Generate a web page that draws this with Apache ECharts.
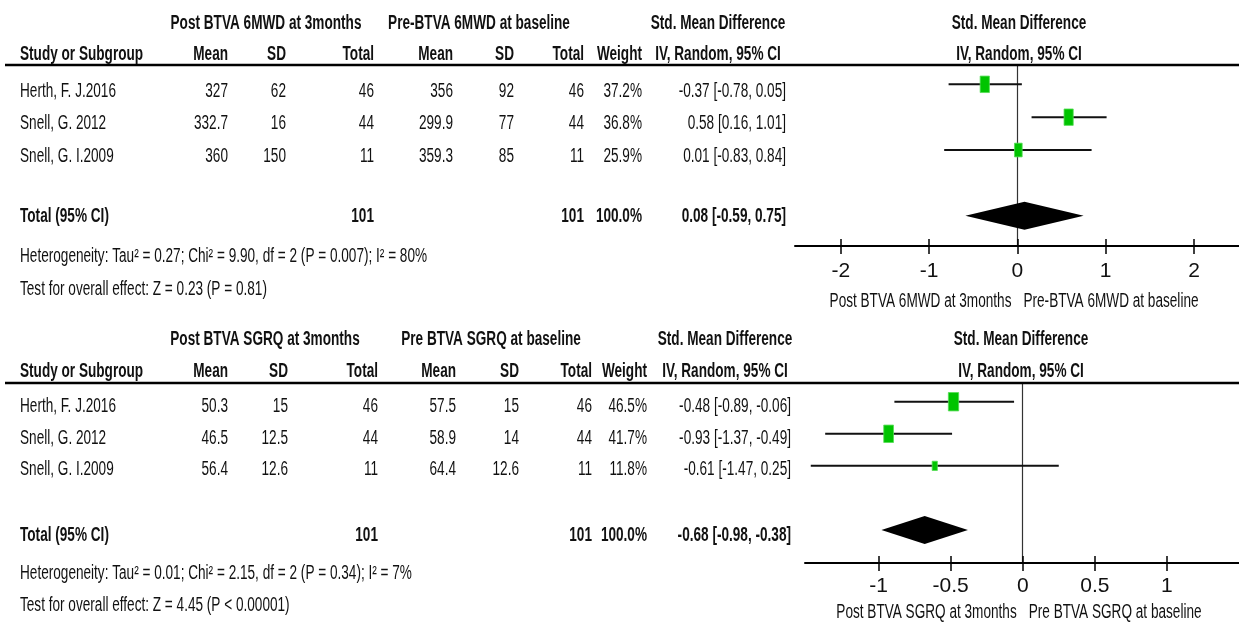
<!DOCTYPE html>
<html><head><meta charset="utf-8">
<script src="https://cdn.jsdelivr.net/npm/echarts@6/dist/echarts.min.js"></script>
<style>html,body{margin:0;padding:0;background:#fff}#c{width:1239px;height:628px}</style>
</head><body><div id="c"></div>
<script>
// ---------- DATA ----------
const studies = ['Herth, F. J.2016', 'Snell, G. 2012', 'Snell, G. I.2009'];

// Panel 1: 6MWD
const mwdGroupPost = 'Post BTVA 6MWD at 3months';
const mwdGroupPre = 'Pre-BTVA 6MWD at baseline';
const mwdPostMean = [327, 332.7, 360];
const mwdPostSD = [62, 16, 150];
const mwdPostN = [46, 44, 11];
const mwdPreMean = [356, 299.9, 359.3];
const mwdPreSD = [92, 77, 85];
const mwdPreN = [46, 44, 11];
const mwdWeight = [37.2, 36.8, 25.9];
const mwdSMD = [-0.37, 0.58, 0.01];
const mwdLo = [-0.78, 0.16, -0.83];
const mwdHi = [0.05, 1.01, 0.84];
const mwdTotal = [0.08, -0.59, 0.75];
const mwdTotalN = [101, 101];
const mwdTotalWeight = 100.0;
const mwdHet = 'Heterogeneity: Tau\u00B2 = 0.27; Chi\u00B2 = 9.90, df = 2 (P = 0.007); I\u00B2 = 80%';
const mwdTest = 'Test for overall effect: Z = 0.23 (P = 0.81)';
const mwdTicks = [-2, -1, 0, 1, 2];

// Panel 2: SGRQ
const sgrqGroupPost = 'Post BTVA SGRQ at 3months';
const sgrqGroupPre = 'Pre BTVA SGRQ at baseline';
const sgrqPostMean = [50.3, 46.5, 56.4];
const sgrqPostSD = [15, 12.5, 12.6];
const sgrqPostN = [46, 44, 11];
const sgrqPreMean = [57.5, 58.9, 64.4];
const sgrqPreSD = [15, 14, 12.6];
const sgrqPreN = [46, 44, 11];
const sgrqWeight = [46.5, 41.7, 11.8];
const sgrqSMD = [-0.48, -0.93, -0.61];
const sgrqLo = [-0.89, -1.37, -1.47];
const sgrqHi = [-0.06, -0.49, 0.25];
const sgrqTotal = [-0.68, -0.98, -0.38];
const sgrqTotalN = [101, 101];
const sgrqTotalWeight = 100.0;
const sgrqHet = 'Heterogeneity: Tau\u00B2 = 0.01; Chi\u00B2 = 2.15, df = 2 (P = 0.34); I\u00B2 = 7%';
const sgrqTest = 'Test for overall effect: Z = 4.45 (P < 0.00001)';
const sgrqTicks = [-1, -0.5, 0, 0.5, 1];

// ---------- STYLE / LAYOUT ----------
const FONT = "'Liberation Sans', Arial, sans-serif";
const FS = 19.5;
const mctx = document.createElement('canvas').getContext('2d');
mctx.font = FS + 'px ' + FONT;
const SX = 96 / mctx.measureText('Herth, F. J.2016').width;
const TXT = '#111';

const panels = [
  { grid: {left: 795, top: 66, width: 444, height: 180}, xmin: -2.52, xmax: 2.51, ymin: -0.557, ymax: 4.92,
    ticks: mwdTicks, groupPost: mwdGroupPost, groupPre: mwdGroupPre,
    postMean: mwdPostMean, postSD: mwdPostSD, postN: mwdPostN, preMean: mwdPreMean, preSD: mwdPreSD, preN: mwdPreN,
    weight: mwdWeight, smd: mwdSMD, lo: mwdLo, hi: mwdHi, total: mwdTotal, totalN: mwdTotalN, totalW: mwdTotalWeight,
    het: mwdHet, test: mwdTest,
    rule: 65, hy1: 24, hy2: 55, rows: [92, 124, 157], totY: 217, hetY: 257, testY: 290, titleY: 302,
    col: {pm: 228, psd: 286, pn: 374, qm: 453, qsd: 514, qn: 584, wt: 642, ci: 786, gPost: 266, gPre: 479, smd: 718, plot: 1019},
    labelMargin: 15 },
  { grid: {left: 805, top: 383, width: 434, height: 180}, xmin: -1.51, xmax: 1.5, ymin: -0.584, ymax: 5.03,
    ticks: sgrqTicks, groupPost: sgrqGroupPost, groupPre: sgrqGroupPre,
    postMean: sgrqPostMean, postSD: sgrqPostSD, postN: sgrqPostN, preMean: sgrqPreMean, preSD: sgrqPreSD, preN: sgrqPreN,
    weight: sgrqWeight, smd: sgrqSMD, lo: sgrqLo, hi: sgrqHi, total: sgrqTotal, totalN: sgrqTotalN, totalW: sgrqTotalWeight,
    het: sgrqHet, test: sgrqTest,
    rule: 383, hy1: 340, hy2: 372, rows: [407, 439, 470], totY: 536, hetY: 574, testY: 606, titleY: 613,
    col: {pm: 228, psd: 288, pn: 378, qm: 456, qsd: 519, qn: 592, wt: 647, ci: 791, gPost: 265, gPre: 491, smd: 725, plot: 1021},
    labelMargin: 13 }
];

const fmt2 = v => v.toFixed(2);
const ciText = (e, l, h) => fmt2(e) + ' [' + fmt2(l) + ', ' + fmt2(h) + ']';

function T(text, x, y, align, bold) {
  return { type: 'text', x: x, y: y, scaleX: SX, silent: true, z: 10,
    style: { text: String(text), fill: TXT, fontSize: FS, fontFamily: FONT, fontWeight: bold ? 'bold' : 'normal',
             align: align, verticalAlign: 'middle' } };
}

// ---------- CHART ----------
const chart = echarts.init(document.getElementById('c'), null, {renderer: 'canvas'});

const grids = [], xAxes = [], yAxes = [], series = [];
panels.forEach((P, gi) => {
  grids.push(Object.assign({containLabel: false}, P.grid));
  xAxes.push({ gridIndex: gi, type: 'value', min: P.xmin, max: P.xmax, position: 'bottom',
    axisLine: { onZero: false, lineStyle: { color: '#000', width: 2 } },
    axisTick: { customValues: P.ticks, length: 8, lineStyle: { color: '#000', width: 1.5 } },
    axisLabel: { customValues: P.ticks, fontSize: 21, fontFamily: FONT,
                 color: TXT, margin: P.labelMargin, formatter: v => String(v) },
    splitLine: { show: false } });
  xAxes.push({ gridIndex: gi, type: 'value', min: P.xmin, max: P.xmax, position: 'bottom', offset: 0,
    axisLine: { show: false, onZero: false },
    axisTick: { customValues: P.ticks, inside: true, length: 7, lineStyle: { color: '#000', width: 1.5 } },
    axisLabel: { show: false }, splitLine: { show: false } });
  yAxes.push({ gridIndex: gi, type: 'value', inverse: true, min: P.ymin, max: P.ymax,
    axisLine: { show: true, onZero: true, onZeroAxisIndex: gi * 2, lineStyle: { color: '#333', width: 1.2 } },
    axisTick: { show: false }, axisLabel: { show: false }, splitLine: { show: false } });

  // study estimates: [smd, lo, hi, row, weight]
  series.push({ type: 'custom', xAxisIndex: gi * 2, yAxisIndex: gi, z: 5,
    data: studies.map((s, i) => [P.smd[i], P.lo[i], P.hi[i], i, P.weight[i]]),
    encode: { x: [0, 1, 2], y: 3 },
    renderItem: (params, api) => {
      const row = api.value(3);
      const c = api.coord([api.value(0), row]);
      const l = api.coord([api.value(1), row]);
      const h = api.coord([api.value(2), row]);
      const hh = Math.sqrt(api.value(4)) * 2.7;
      const ww = hh * 0.56;
      return { type: 'group', children: [
        { type: 'line', shape: { x1: l[0], y1: l[1], x2: h[0], y2: h[1] }, style: { stroke: '#111', lineWidth: 2 } },
        { type: 'rect', shape: { x: c[0] - ww / 2, y: c[1] - hh / 2, width: ww, height: hh },
          style: { fill: '#00c400', stroke: '#55dd55', lineWidth: 0.8 } }
      ]};
    } });
  // pooled diamond
  series.push({ type: 'custom', xAxisIndex: gi * 2, yAxisIndex: gi, z: 5,
    data: [[P.total[0], P.total[1], P.total[2], 4]],
    encode: { x: [0, 1, 2], y: 3 },
    renderItem: (params, api) => {
      const row = api.value(3);
      const c = api.coord([api.value(0), row]);
      const l = api.coord([api.value(1), row]);
      const h = api.coord([api.value(2), row]);
      const d = 14;
      return { type: 'polygon', shape: { points: [[l[0], c[1]], [c[0], c[1] - d], [h[0], c[1]], [c[0], c[1] + d]] },
        style: { fill: '#000' } };
    } });
});

chart.setOption({ animation: false, backgroundColor: '#fff', grid: grids, xAxis: xAxes, yAxis: yAxes, series: series });

// ---------- TABLE TEXT ----------
const g = [];
panels.forEach((P, gi) => {
  const C = P.col;
  g.push({ type: 'line', silent: true, z: 9, shape: { x1: 5, y1: P.rule, x2: 1239, y2: P.rule }, style: { stroke: '#000', lineWidth: 2.5 } });
  g.push(T(P.groupPost, C.gPost, P.hy1, 'center', true));
  g.push(T(P.groupPre, C.gPre, P.hy1, 'center', true));
  g.push(T('Std. Mean Difference', C.smd, P.hy1, 'center', true));
  g.push(T('Std. Mean Difference', C.plot, P.hy1, 'center', true));
  g.push(T('Study or Subgroup', 20, P.hy2, 'left', true));
  g.push(T('Mean', C.pm, P.hy2, 'right', true));
  g.push(T('SD', C.psd, P.hy2, 'right', true));
  g.push(T('Total', C.pn, P.hy2, 'right', true));
  g.push(T('Mean', C.qm, P.hy2, 'right', true));
  g.push(T('SD', C.qsd, P.hy2, 'right', true));
  g.push(T('Total', C.qn, P.hy2, 'right', true));
  g.push(T('Weight', C.wt, P.hy2, 'right', true));
  g.push(T('IV, Random, 95% CI', C.smd, P.hy2, 'center', true));
  g.push(T('IV, Random, 95% CI', C.plot, P.hy2, 'center', true));
  studies.forEach((s, i) => {
    const y = P.rows[i];
    g.push(T(s, 20, y, 'left'));
    g.push(T(P.postMean[i], C.pm, y, 'right'));
    g.push(T(P.postSD[i], C.psd, y, 'right'));
    g.push(T(P.postN[i], C.pn, y, 'right'));
    g.push(T(P.preMean[i], C.qm, y, 'right'));
    g.push(T(P.preSD[i], C.qsd, y, 'right'));
    g.push(T(P.preN[i], C.qn, y, 'right'));
    g.push(T(P.weight[i].toFixed(1) + '%', C.wt, y, 'right'));
    g.push(T(ciText(P.smd[i], P.lo[i], P.hi[i]), C.ci, y, 'right'));
  });
  g.push(T('Total (95% CI)', 20, P.totY, 'left', true));
  g.push(T(P.totalN[0], C.pn, P.totY, 'right', true));
  g.push(T(P.totalN[1], C.qn, P.totY, 'right', true));
  g.push(T(P.totalW.toFixed(1) + '%', C.wt, P.totY, 'right', true));
  g.push(T(ciText(P.total[0], P.total[1], P.total[2]), C.ci, P.totY, 'right', true));
  g.push(T(P.het, 20, P.hetY, 'left'));
  g.push(T(P.test, 20, P.testY, 'left'));
  // axis titles on both sides of zero
  const x0 = chart.convertToPixel({ xAxisIndex: gi * 2 }, 0);
  g.push(T(P.groupPost, x0 - 6, P.titleY, 'right'));
  g.push(T(P.groupPre, x0 + 6, P.titleY, 'left'));
});
chart.setOption({ graphic: g });
</script></body></html>
